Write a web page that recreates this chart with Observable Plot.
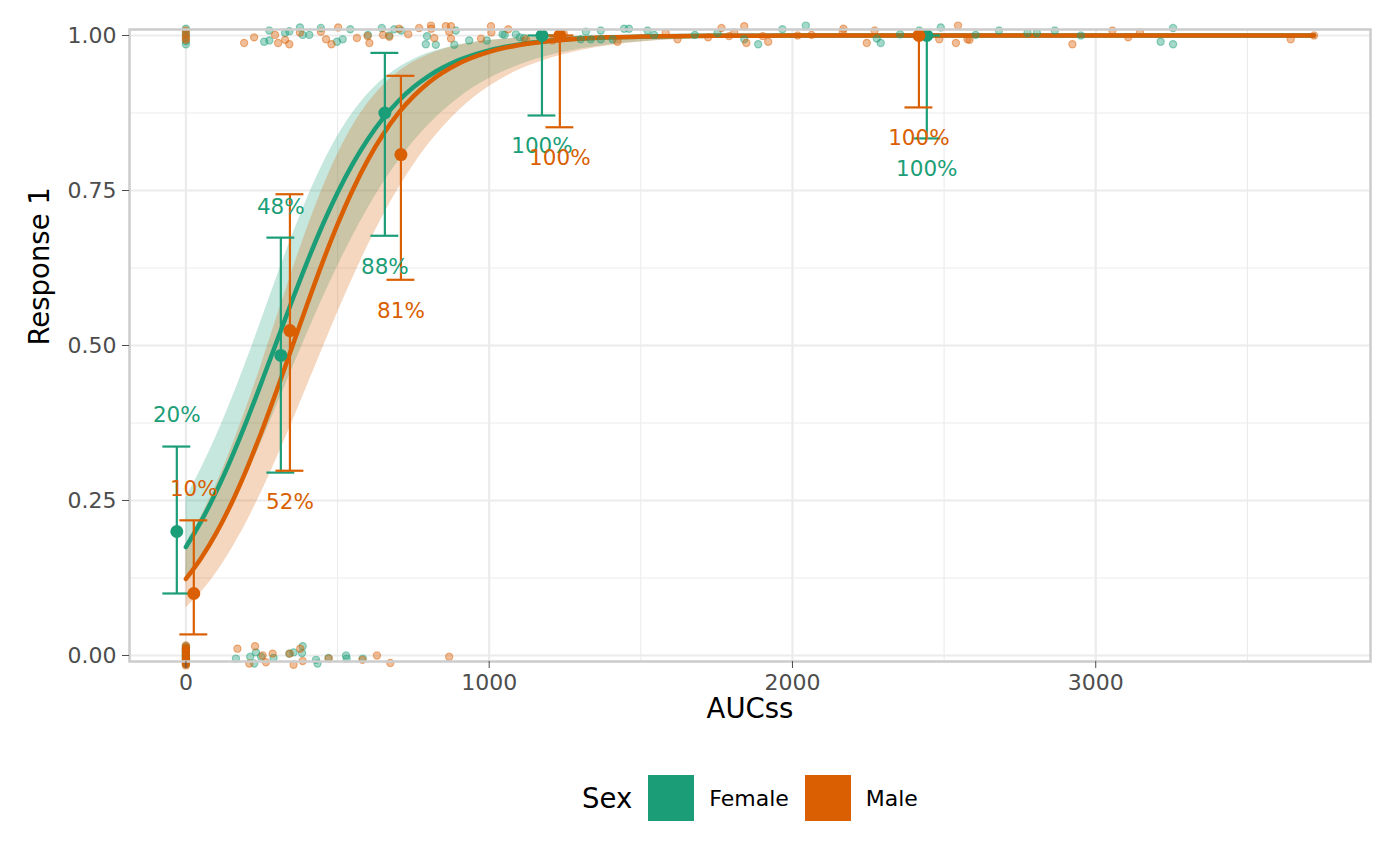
<!DOCTYPE html>
<html>
<head>
<meta charset="utf-8">
<script src="https://cdn.jsdelivr.net/npm/d3@7"></script>
<script src="https://cdn.jsdelivr.net/npm/@observablehq/plot@0.6"></script>
<style>
  body { margin: 0; background: #fff; font-family: "DejaVu Sans", sans-serif; }
  #chart svg { display: block; }
  #legend { display: flex; align-items: center; justify-content: center; box-sizing: border-box;
            width: 1400px; padding-left: 100px; margin-top: 35px; height: 46px; }
  #legend .title { font-size: 27.5px; color: #000; margin-right: 16px; }
  #legend .key { width: 46px; height: 46px; margin-right: 15px; }
  #legend .lab { font-size: 22px; color: #000; margin-right: 16px; }
  #legend .lab:last-child { margin-right: 0; }
</style>
</head>
<body>
<div id="chart"></div>
<div id="legend"></div>
<script>
// ---------- data ----------
const sexes = ["Female", "Male"];
const sexColors = ["#1B9E77", "#D95F02"];

const xTicks = [0, 1000, 2000, 3000];
const xMinor = [500, 1500, 2500, 3500];
const yTicks = [0, 0.25, 0.5, 0.75, 1];
const yMinor = [0.125, 0.375, 0.625, 0.875];

// fitted logistic curves with confidence ribbons (read at these AUCss values)
const fitX = [0,50,100,150,200,250,300,350,400,450,500,550,600,650,700,750,800,900,1000,1100,1200,1300,1400,1500,1750,2000,2500,3000,3720];
const femaleFit = [0.175,0.2164,0.2643,0.3185,0.378,0.4415,0.507,0.5722,0.635,0.6936,0.7465,0.793,0.8328,0.8663,0.894,0.9164,0.9345,0.9602,0.9761,0.9857,0.9915,0.995,0.997,0.9982,0.9995,0.9999,1,1,1];
const femaleLo  = [0.1164,0.1503,0.1908,0.2376,0.2894,0.3453,0.403,0.4616,0.5192,0.5749,0.6274,0.6763,0.7211,0.7613,0.7972,0.8286,0.8558,0.8994,0.9306,0.9526,0.9678,0.9782,0.9853,0.9901,0.9963,0.9986,0.9998,1,1];
const femaleHi  = [0.2548,0.3011,0.3536,0.4119,0.4755,0.5424,0.6105,0.6761,0.7371,0.7911,0.8374,0.8753,0.9057,0.9295,0.9476,0.9614,0.9716,0.9849,0.992,0.9958,0.9978,0.9989,0.9994,0.9997,1,1,1,1,1];
const maleFit = [0.1235,0.1569,0.1973,0.2452,0.3003,0.3618,0.4282,0.4974,0.5666,0.6333,0.6953,0.7509,0.7993,0.8403,0.8743,0.9018,0.9239,0.9549,0.9737,0.9847,0.9912,0.9949,0.9971,0.9983,0.9996,0.9999,1,1,1];
const maleLo  = [0.0766,0.1018,0.1331,0.1708,0.2148,0.2645,0.3187,0.376,0.4351,0.4945,0.5527,0.6085,0.6608,0.7089,0.7523,0.7909,0.8247,0.8788,0.9176,0.9447,0.9631,0.9756,0.9839,0.9894,0.9963,0.9987,0.9998,1,1];
const maleHi  = [0.18,0.2241,0.2755,0.3347,0.4003,0.471,0.5454,0.619,0.6893,0.753,0.8082,0.854,0.8906,0.9191,0.9408,0.9571,0.969,0.9841,0.9919,0.9959,0.9979,0.999,0.9995,0.9998,1,1,1,1,1];

// binned observed proportions with error bars
const binSex   = ["Female","Male","Female","Male","Female","Male","Female","Male","Female","Male"];
const binX     = [-30, 26, 313, 343, 656, 709, 1174, 1233, 2443, 2417];
const binP     = [0.20, 0.10, 0.484, 0.524, 0.875, 0.808, 1, 1, 1, 1];
const binLo    = [0.10, 0.034, 0.295, 0.298, 0.677, 0.606, 0.871, 0.852, 0.834, 0.884];
const binHi    = [0.337, 0.218, 0.674, 0.744, 0.972, 0.935, 1, 1, 1, 1];
const binLabel = ["20%","10%","48%","52%","88%","81%","100%","100%","100%","100%"];

// jittered individual observations (AUCss, response with jitter)
const femaleX = [
  0,0,0,0,0,
  258,275,275,327,341,376,385,407,445,498,517,542,600,646,670,687,710,791,795,824,885,890,934,992,
  1044,1051,1088,1101,1115,1302,1319,1335,1368,1368,1407,1445,1461,1522,1544,1678,1753,1841,1887,1967,
  2044,2278,2291,2355,2418,2489,2604,2681,2775,2806,2865,2951,3214,3255,3255,
  0,0,0,0,0,0,0,0,0,0,0,0,0,0,0,0,
  165,212,225,231,248,289,341,355,383,385,429,434,470,528,530,583
];
const femaleY = [
  1.011,1.005,0.999,0.991,0.986,
  0.990,1.008,0.992,1.004,1.007,1.013,1.001,1.001,1.012,0.990,0.994,1.010,1.001,1.012,1.000,1.010,1.008,0.986,0.999,0.985,0.985,1.008,0.992,0.992,
  1.002,1.001,1.002,0.997,0.996,0.994,1.006,0.994,1.008,0.994,0.994,1.011,1.011,1.008,1.001,1.001,1.004,0.994,0.986,1.010,
  1.016,0.995,0.988,1.002,1.008,1.013,1.001,1.008,1.004,1.004,1.008,1.000,0.990,1.012,0.986,
  0.015,0.012,0.009,0.006,0.003,0.000,-0.002,-0.004,-0.006,-0.008,-0.010,-0.012,-0.014,0.004,-0.001,0.010,
  -0.005,-0.002,-0.013,0.005,-0.002,-0.004,0.003,0.005,0.004,0.015,-0.007,-0.013,-0.004,0.000,-0.005,-0.005
];
const maleX = [
  0,0,0,0,
  192,225,294,304,327,341,376,445,462,480,502,564,599,605,650,671,703,733,769,808,809,819,857,868,874,874,973,
  1006,1007,1063,1121,1209,1246,1423,1582,1621,1722,1766,1791,1808,1841,1848,1902,1920,
  2017,2063,2166,2168,2245,2271,2484,2539,2546,2577,2584,2923,3055,3107,3146,3643,3720,
  0,0,0,0,0,0,0,0,0,0,0,0,0,0,0,0,0,0,
  170,209,228,253,264,286,342,355,377,385,471,582,630,674,868
];
const maleY = [
  1.008,1.002,0.996,0.993,
  0.988,0.997,1.001,0.988,0.993,0.986,1.005,1.006,0.994,0.986,1.013,0.996,0.999,0.988,1.001,0.998,1.011,1.002,1.012,1.016,1.011,0.996,1.015,1.006,1.015,0.995,0.995,
  1.015,1.005,1.010,0.994,0.992,1.003,0.990,1.004,0.994,0.997,1.012,0.999,1.005,1.015,0.988,0.999,0.990,
  1.000,1.001,1.006,1.011,0.988,1.008,0.994,0.988,1.016,0.994,0.993,0.986,1.008,0.997,1.005,0.994,1.000,
  0.016,0.013,0.010,0.007,0.004,0.001,-0.002,-0.005,-0.008,-0.011,-0.014,-0.016,0.012,0.006,0.000,-0.006,-0.012,0.009,
  0.011,-0.013,0.015,0.000,-0.011,0.003,0.003,-0.015,0.011,-0.009,-0.005,-0.007,0.000,-0.012,-0.002
];

// ---------- tables built from the arrays ----------
const fitRows = [];
fitX.forEach((x, i) => {
  fitRows.push({x, sex: "Female", fit: femaleFit[i], lo: femaleLo[i], hi: femaleHi[i]});
});
fitX.forEach((x, i) => {
  fitRows.push({x, sex: "Male", fit: maleFit[i], lo: maleLo[i], hi: maleHi[i]});
});
const jitterRows = [
  ...femaleX.map((x, i) => ({x, y: femaleY[i], sex: "Female"})),
  ...maleX.map((x, i) => ({x, y: maleY[i], sex: "Male"}))
];
const binRows = binX.map((x, i) => ({x, sex: binSex[i], p: binP[i], lo: binLo[i], hi: binHi[i], label: binLabel[i]}));

const capHalf = 46; // half cap width in AUCss units

const chart = Plot.plot({
  width: 1400,
  height: 740,
  marginLeft: 129,
  marginRight: 30,
  marginTop: 29,
  marginBottom: 79,
  style: {background: "#fff", fontFamily: "DejaVu Sans", fontSize: "22px", overflow: "visible"},
  x: {domain: [-186, 3906]},
  y: {domain: [-0.0097, 1.0097]},
  color: {domain: sexes, range: sexColors},
  marks: [
    Plot.ruleX(xMinor, {stroke: "#EBEBEB", strokeWidth: 1.1}),
    Plot.ruleY(yMinor, {stroke: "#EBEBEB", strokeWidth: 1.1}),
    Plot.ruleX(xTicks, {stroke: "#EBEBEB", strokeWidth: 2.2}),
    Plot.ruleY(yTicks, {stroke: "#EBEBEB", strokeWidth: 2.2}),
    Plot.areaY(fitRows, {x: "x", y1: "lo", y2: "hi", fill: "sex", fillOpacity: 0.25, curve: "monotone-x"}),
    Plot.line(fitRows, {x: "x", y: "fit", stroke: "sex", z: "sex", strokeWidth: 4.5, curve: "monotone-x"}),
    Plot.dot(jitterRows, {x: "x", y: "y", fill: "sex", stroke: "sex", r: 3.6, fillOpacity: 0.4, strokeOpacity: 0.45, strokeWidth: 1.2}),
    Plot.ruleX(binRows, {x: "x", y1: "lo", y2: "hi", stroke: "sex", strokeWidth: 2.2}),
    Plot.ruleY(binRows, {y: "lo", x1: d => d.x - capHalf, x2: d => d.x + capHalf, stroke: "sex", strokeWidth: 2.2}),
    Plot.ruleY(binRows, {y: "hi", x1: d => d.x - capHalf, x2: d => d.x + capHalf, stroke: "sex", strokeWidth: 2.2}),
    Plot.dot(binRows, {x: "x", y: "p", fill: "sex", r: 6.5}),
    Plot.text(binRows, {x: "x", y: d => d.p < 0.5 ? d.hi + 0.05 : d.lo - 0.05, text: "label", fill: "sex", fontSize: 21.5}),
    Plot.frame({stroke: "#CCCCCC", strokeWidth: 2.5}),
    Plot.axisX(xTicks, {tickSize: 7, tickPadding: 6, fontSize: 22, color: "#4D4D4D", label: null, tickFormat: d => String(d)}),
    Plot.axisY(yTicks, {tickSize: 7, tickPadding: 6, fontSize: 22, color: "#4D4D4D", label: null, tickFormat: d => d.toFixed(2)}),
    Plot.text(["AUCss"], {frameAnchor: "bottom", dy: 56, fontSize: 27.5, fill: "#000"}),
    Plot.text(["Response 1"], {frameAnchor: "left", dx: -89, rotate: -90, fontSize: 27.5, fill: "#000"})
  ]
});
document.getElementById("chart").appendChild(chart);

// legend
const legend = document.getElementById("legend");
const t = document.createElement("span");
t.className = "title"; t.textContent = "Sex";
legend.appendChild(t);
sexes.forEach((s, i) => {
  const k = document.createElement("span");
  k.className = "key"; k.style.background = sexColors[i];
  legend.appendChild(k);
  const l = document.createElement("span");
  l.className = "lab"; l.textContent = s;
  legend.appendChild(l);
});
</script>
</body>
</html>
